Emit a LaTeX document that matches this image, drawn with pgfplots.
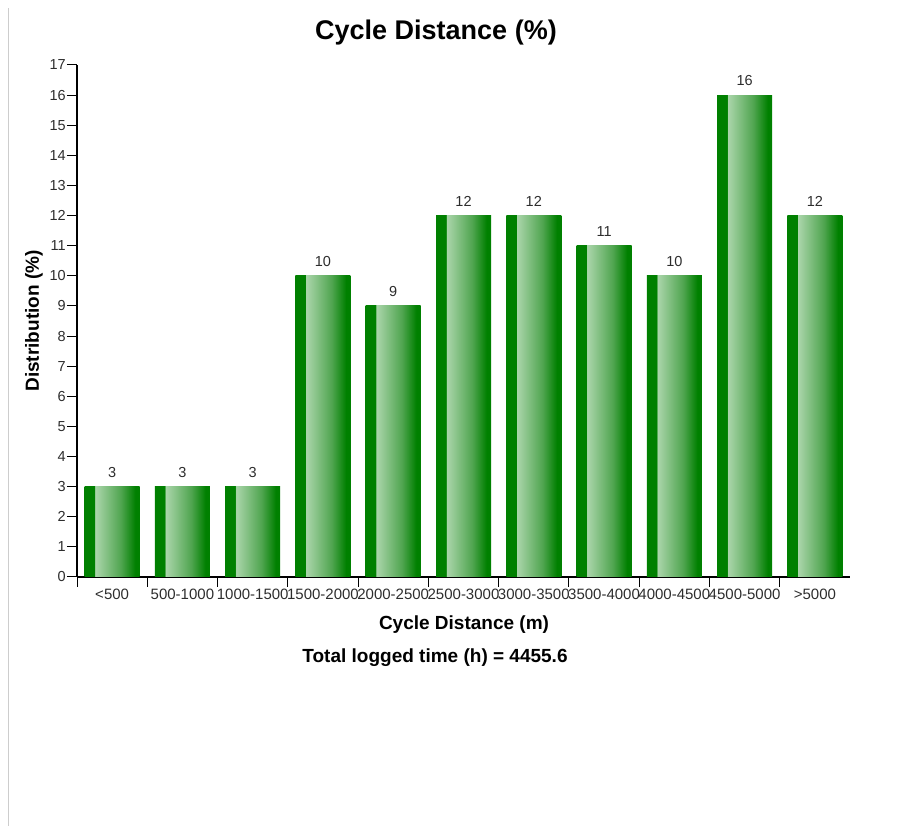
\documentclass[border=0pt]{standalone}
\usepackage{fontspec}
\setmainfont{Liberation Sans}
\usepackage{pgfplots}
\pgfplotsset{compat=1.18}
\definecolor{dkg}{RGB}{0,128,0}
\definecolor{ltg}{RGB}{172,214,172}
\definecolor{mdg}{RGB}{80,165,80}
\definecolor{txt}{RGB}{45,45,45}
\definecolor{sideline}{RGB}{205,205,205}
\pgfdeclarehorizontalshading{barshade}{100bp}{color(0bp)=(dkg); color(34bp)=(dkg); color(34.5bp)=(ltg); color(58bp)=(mdg); color(71bp)=(dkg); color(100bp)=(dkg)}
\tikzset{gbar/.style={draw=none, shade, shading=barshade}}
\begin{document}
\begin{tikzpicture}
\useasboundingbox (0,0) rectangle (910pt,826pt);
\draw[sideline, line width=1.5pt] (8.5pt,0) -- (8.5pt,818pt);
\begin{axis}[
  at={(77pt,249pt)}, anchor=south west,
  scale only axis, width=773pt, height=512pt,
  xmin=-0.5, xmax=10.5, ymin=0, ymax=17,
  axis x line=bottom, axis y line=left,
  axis line style={-, line width=1.5pt, black},
  tick align=outside, major tick length=10pt,
  tick style={black, line width=1pt},
  xtick={-0.5,0.5,...,9.5},
  xticklabels={<500,500-1000,1000-1500,1500-2000,2000-2500,2500-3000,3000-3500,3500-4000,4000-4500,4500-5000,>5000},
  xticklabel style={xshift=35.14pt, font=\fontsize{15}{17}\selectfont, text=txt, inner sep=2pt},
  ytick={0,1,...,17},
  yticklabel style={font=\fontsize{14.5}{16}\selectfont, text=txt, inner sep=1pt},
  /pgf/number format/assume math mode=true,
  ybar, bar width=55pt, bar shift=0pt,
  nodes near coords,
  every node near coord/.append style={font=\fontsize{14.5}{16}\selectfont, text=txt, inner sep=0pt, anchor=south, yshift=9pt},
  clip=false,
]
\addplot[gbar] coordinates {(0,3)};
\addplot[gbar] coordinates {(1,3)};
\addplot[gbar] coordinates {(2,3)};
\addplot[gbar] coordinates {(3,10)};
\addplot[gbar] coordinates {(4,9)};
\addplot[gbar] coordinates {(5,12)};
\addplot[gbar] coordinates {(6,12)};
\addplot[gbar] coordinates {(7,11)};
\addplot[gbar] coordinates {(8,10)};
\addplot[gbar] coordinates {(9,16)};
\addplot[gbar] coordinates {(10,12)};
\end{axis}
\node[font=\bfseries\fontsize{27}{31}\selectfont] at (436pt,793pt) {Cycle Distance (\%)};
\node[font=\bfseries\fontsize{19}{22}\selectfont] at (464pt,201pt) {Cycle Distance (m)};
\node[font=\bfseries\fontsize{19}{22}\selectfont] at (435pt,168pt) {Total logged time (h) = 4455.6};
\node[font=\bfseries\fontsize{19}{22}\selectfont, rotate=90] at (34pt,505pt) {Distribution (\%)};
\end{tikzpicture}
\end{document}
